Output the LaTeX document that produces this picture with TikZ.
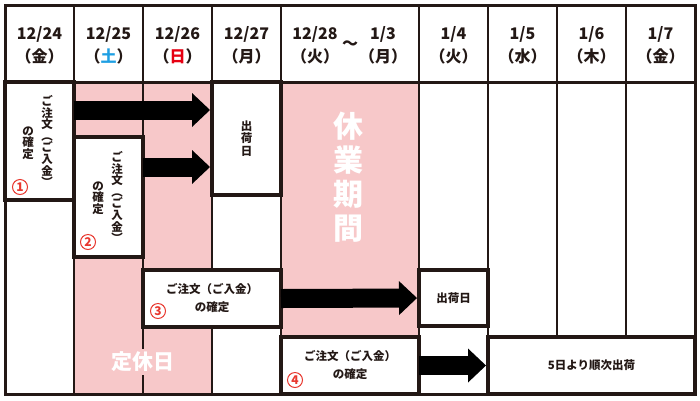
\documentclass[tikz,border=0pt]{standalone}
\usepackage{fontspec}
\setmainfont{Noto Sans CJK JP}
\usetikzlibrary{arrows.meta,calc}
\definecolor{ink}{HTML}{231815}
\definecolor{pinkbg}{HTML}{F7C8C9}
\definecolor{satblue}{HTML}{1E9FE3}
\definecolor{sunred}{HTML}{E60012}
\definecolor{numred}{HTML}{E8382F}
\begin{document}
\begin{tikzpicture}[x=1pt,y=-1pt,
 gridline/.style={draw=ink, line width=2.5pt},
 box/.style={draw=ink, fill=white, line width=4pt, inner sep=0pt, outer sep=0pt, anchor=north west},
 hd/.style={font=\fontsize{16}{23}\selectfont\bfseries, align=center, text=ink, inner sep=0pt},
 body/.style={font=\fontsize{11.5}{18}\selectfont\bfseries, align=center, text=ink, inner sep=0pt},
 vbody/.style={font=\fontsize{11.5}{11.6}\selectfont\bfseries, align=center, text=ink, inner sep=0pt},
 num/.style={circle, draw=numred, line width=1pt, text=numred, inner sep=0pt, minimum size=15pt, font=\fontsize{12}{12}\selectfont\bfseries},
 bigarrow/.style={draw=black, line width=19pt, -{Triangle[length=18pt,width=34pt,line width=0pt]}, shorten >=2pt},
]
\useasboundingbox (0,0) rectangle (700,400);
\fill[white] (0,0) rectangle (700,400);
% pink regions
\fill[pinkbg] (74,82) rectangle (212,394);
\fill[pinkbg] (281,82) rectangle (419,394);
% header vertical lines
\foreach \x in {74,143,212,281,419,488,557,626}
  \draw[gridline] (\x,5) -- (\x,82);
% body vertical lines
\foreach \x in {74,143,212,281,419,488,557,626}
  \draw[gridline] (\x,82) -- (\x,394);
% outer border and header separator
\draw[gridline, line width=3pt] (5,5) rectangle (695,394);
\draw[gridline, line width=3pt] (5,82) -- (695,82);
% header texts
\node[hd] (h1) at (39.5,45) {12/24\\（金）};
\node[hd] (h2) at (108.5,45) {12/25\\（\textcolor{satblue}{土}）};
\node[hd] (h3) at (177.5,45) {12/26\\（\textcolor{sunred}{日}）};
\node[hd] (h4) at (246.5,45) {12/27\\（月）};
\node[hd] (h5a) at (315,45) {12/28\\（火）};
\node[hd] (h5b) at (350,45) {～};
\node[hd] (h5c) at (383,45) {1/3\\（月）};
\node[hd] (h6) at (453.5,45) {1/4\\（火）};
\node[hd] (h7) at (522.5,45) {1/5\\（水）};
\node[hd] (h8) at (591.5,45) {1/6\\（木）};
\node[hd] (h9) at (660.5,45) {1/7\\（金）};
% holiday labels
\node[font=\fontsize{30}{34}\selectfont\bfseries, text=white, align=center, inner sep=0pt] (hol) at (348,177) {休\\業\\期\\間};
\node[font=\fontsize{21}{21}\selectfont\bfseries, text=white, fill=pinkbg, inner sep=3pt] (teikyu) at (143,362) {定休日};
% boxes
\node[box, minimum width=69pt, minimum height=118pt] (B1) at (5,82) {};
\node[box, minimum width=69pt, minimum height=120pt] (B2) at (74,137) {};
\node[box, minimum width=69pt, minimum height=113pt] (S1) at (212,82) {};
\node[box, minimum width=138pt, minimum height=57pt] (B3) at (143,270) {};
\node[box, minimum width=69pt, minimum height=56pt] (S2) at (419,270) {};
\node[box, minimum width=138pt, minimum height=57pt] (B4) at (281,337) {};
\node[box, minimum width=207pt, minimum height=57pt] (B5) at (488,337) {};
% box texts
\node[vbody] (t1a) at (47,141) {ご\\注\\文\\︵\\ご\\入\\金\\︶};
\node[vbody] (t1b) at (28,143) {の\\確\\定};
\node[num] (n1) at (20,187) {1};
\node[vbody] (t2a) at (117,197) {ご\\注\\文\\︵\\ご\\入\\金\\︶};
\node[vbody] (t2b) at (98,198) {の\\確\\定};
\node[num] (n2) at (88,242) {2};
\node[vbody, font=\fontsize{11.5}{12.5}\selectfont\bfseries] (ts1) at (S1) {出\\荷\\日};
\node[body] (t3) at (B3) {ご注文（ご入金）\\の確定};
\node[num] (n3) at (158,311) {3};
\node[body] (ts2) at (S2) {出荷日};
\node[body] (t4) at (B4) {ご注文（ご入金）\\の確定};
\node[num] (n4) at (295,380) {4};
\node[body] (t5) at (B5) {5日より順次出荷};
% arrows
\coordinate (a1) at ($(B1.north east)+(0,28)$);
\coordinate (a2) at ($(B2.north east)+(0,30)$);
\draw[bigarrow] (a1) -- (a1 -| S1.west);
\draw[bigarrow] (a2) -- (a2 -| S1.west);
\draw[bigarrow] (B3.east) -- (S2.west);
\draw[bigarrow] (B4.east) -- (B5.west);
\end{tikzpicture}
\end{document}
